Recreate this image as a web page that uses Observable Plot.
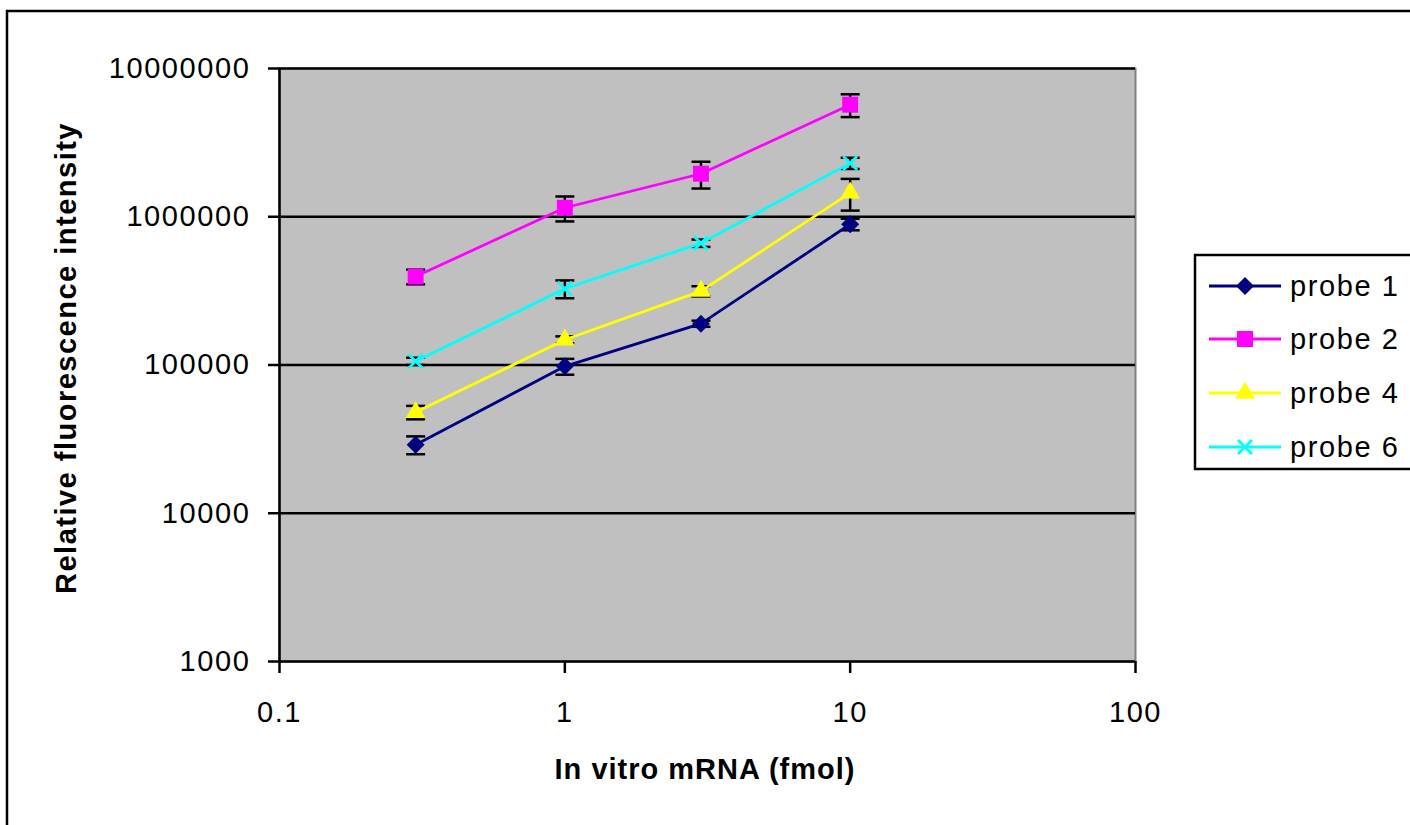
<!DOCTYPE html>
<html>
<head>
<meta charset="utf-8">
<script src="https://cdn.jsdelivr.net/npm/d3@7"></script>
<script src="https://cdn.jsdelivr.net/npm/@observablehq/plot@0.6"></script>
<style>
  html, body { margin: 0; padding: 0; background: #fff; }
  #chart svg { display: block; }
  [aria-label="x-axis tick label"] text, [aria-label="y-axis tick label"] text { letter-spacing: 1.6px; }
</style>
</head>
<body>
<div id="chart"></div>
<script>
// ---- data ----
const xValues = [0.3, 1, 3, 10];           // In vitro mRNA (fmol)
const seriesNames = ["probe 1", "probe 2", "probe 4", "probe 6"];
const probe1 = [29000, 98000, 190000, 890000];
const probe2 = [395000, 1150000, 1950000, 5700000];
const probe4 = [48000, 148000, 315000, 1450000];
const probe6 = [106000, 327000, 664000, 2300000];
const err1 = [4000, 12000, 9000, 80000];
const err2 = [45000, 220000, 400000, 1000000];
const err4 = [5000, 8000, 25000, 350000];
const err6 = [6000, 45000, 38000, 200000];
const xTicks = [0.1, 1, 10, 100];
const yTicks = [1000, 10000, 100000, 1000000, 10000000];
const gridTicks = [10000, 100000, 1000000, 10000000];

// ---- style ----
const colors = ["#000080", "#FF00FF", "#FFFF00", "#00FFFF"];
const symbols = ["diamond2", "square", "triangle", "times"];
const symbolR = [8.1, 9.0, 7.3, 6.4];
const FONT = "'Liberation Sans', Arial, sans-serif";

const values = [probe1, probe2, probe4, probe6];
const errs = [err1, err2, err4, err6];
const rows = [];
seriesNames.forEach((s, i) => {
  xValues.forEach((x, j) => {
    rows.push({series: s, idx: i, x, y: values[i][j], lo: values[i][j] - errs[i][j], hi: values[i][j] + errs[i][j]});
  });
});

const capSymbol = {
  draw(ctx, size) {
    const w = Math.sqrt(size);
    ctx.moveTo(-w / 2, 0);
    ctx.lineTo(w / 2, 0);
  }
};
const capR = 19 / Math.sqrt(Math.PI);

const marks = [
  Plot.frame({fill: "#C0C0C0", stroke: "#808080", strokeWidth: 2}),
  Plot.ruleY(gridTicks, {stroke: "black", strokeWidth: 2.5}),
  Plot.ruleX(rows, {x: "x", y1: "lo", y2: "hi", stroke: "black", strokeWidth: 2.5}),
  Plot.dot(rows, {x: "x", y: "lo", symbol: () => capSymbol, r: capR, fill: "none", stroke: "black", strokeWidth: 2.5}),
  Plot.dot(rows, {x: "x", y: "hi", symbol: () => capSymbol, r: capR, fill: "none", stroke: "black", strokeWidth: 2.5}),
];
seriesNames.forEach((s, i) => {
  const d = rows.filter(r => r.series === s);
  marks.push(Plot.line(d, {x: "x", y: "y", stroke: colors[i], strokeWidth: 2.8}));
});
seriesNames.forEach((s, i) => {
  const d = rows.filter(r => r.series === s);
  if (symbols[i] === "times") {
    marks.push(Plot.dot(d, {x: "x", y: "y", symbol: symbols[i], r: symbolR[i], fill: "none", stroke: colors[i], strokeWidth: 2.8}));
  } else {
    marks.push(Plot.dot(d, {x: "x", y: "y", symbol: symbols[i], r: symbolR[i], fill: colors[i], stroke: "none"}));
  }
});
marks.push(
  Plot.ruleX([0.1], {stroke: "black", strokeWidth: 2.5}),
  Plot.ruleY([1000], {stroke: "black", strokeWidth: 2.5}),
  Plot.axisX(xTicks, {tickFormat: d => String(d), tickSize: 12, tickPadding: 28, strokeWidth: 2.5, label: null, fill: "black", fontSize: 29}),
  Plot.axisY(yTicks, {tickFormat: d3.format("d"), tickSize: 11, tickPadding: 18, strokeWidth: 2.5, label: null, fill: "black", fontSize: 29})
);

const chart = Plot.plot({
  width: 1410,
  height: 825,
  marginLeft: 279,
  marginRight: 275,
  marginTop: 68,
  marginBottom: 164,
  style: {fontFamily: FONT, fontSize: "29px", color: "black", background: "white", overflow: "visible"},
  x: {type: "log", domain: [0.1, 100]},
  y: {type: "log", domain: [1000, 10000000]},
  marks
});
document.getElementById("chart").appendChild(chart);

// ---- decorations: outer border, axis titles, legend ----
const svg = d3.select(chart);
svg.insert("rect", ":first-child")
  .attr("x", 7).attr("y", 11).attr("width", 1420).attr("height", 830)
  .attr("fill", "white").attr("stroke", "black").attr("stroke-width", 2.5);

svg.append("text")
  .attr("transform", "translate(76,358) rotate(-90)")
  .attr("text-anchor", "middle")
  .attr("font-weight", "bold").attr("font-size", 29).attr("letter-spacing", "1.5px")
  .attr("fill", "black")
  .text("Relative fluorescence intensity");

svg.append("text")
  .attr("x", 705).attr("y", 779)
  .attr("text-anchor", "middle")
  .attr("font-weight", "bold").attr("font-size", 29).attr("letter-spacing", "1px")
  .attr("fill", "black")
  .text("In vitro mRNA (fmol)");

const legend = svg.append("g");
legend.append("rect")
  .attr("x", 1195).attr("y", 255).attr("width", 240).attr("height", 214)
  .attr("fill", "white").attr("stroke", "black").attr("stroke-width", 2.5);
const rowY = [286, 339, 393, 447];
const d3Symbols = {diamond2: d3.symbolDiamond2, square: d3.symbolSquare, triangle: d3.symbolTriangle, times: d3.symbolTimes};
seriesNames.forEach((s, i) => {
  const g = legend.append("g");
  g.append("line").attr("x1", 1209).attr("x2", 1281).attr("y1", rowY[i]).attr("y2", rowY[i])
    .attr("stroke", colors[i]).attr("stroke-width", 2.8);
  const size = Math.PI * symbolR[i] * symbolR[i];
  const p = g.append("path")
    .attr("transform", `translate(1245,${rowY[i]})`)
    .attr("d", d3.symbol(d3Symbols[symbols[i]], size)());
  if (symbols[i] === "times") p.attr("fill", "none").attr("stroke", colors[i]).attr("stroke-width", 2.8);
  else p.attr("fill", colors[i]);
  g.append("text").attr("x", 1290).attr("y", rowY[i]).attr("dy", "0.36em")
    .attr("text-anchor", "start")
    .attr("font-size", 29).attr("letter-spacing", "1.6px").attr("fill", "black")
    .text(s);
});
</script>
</body>
</html>
